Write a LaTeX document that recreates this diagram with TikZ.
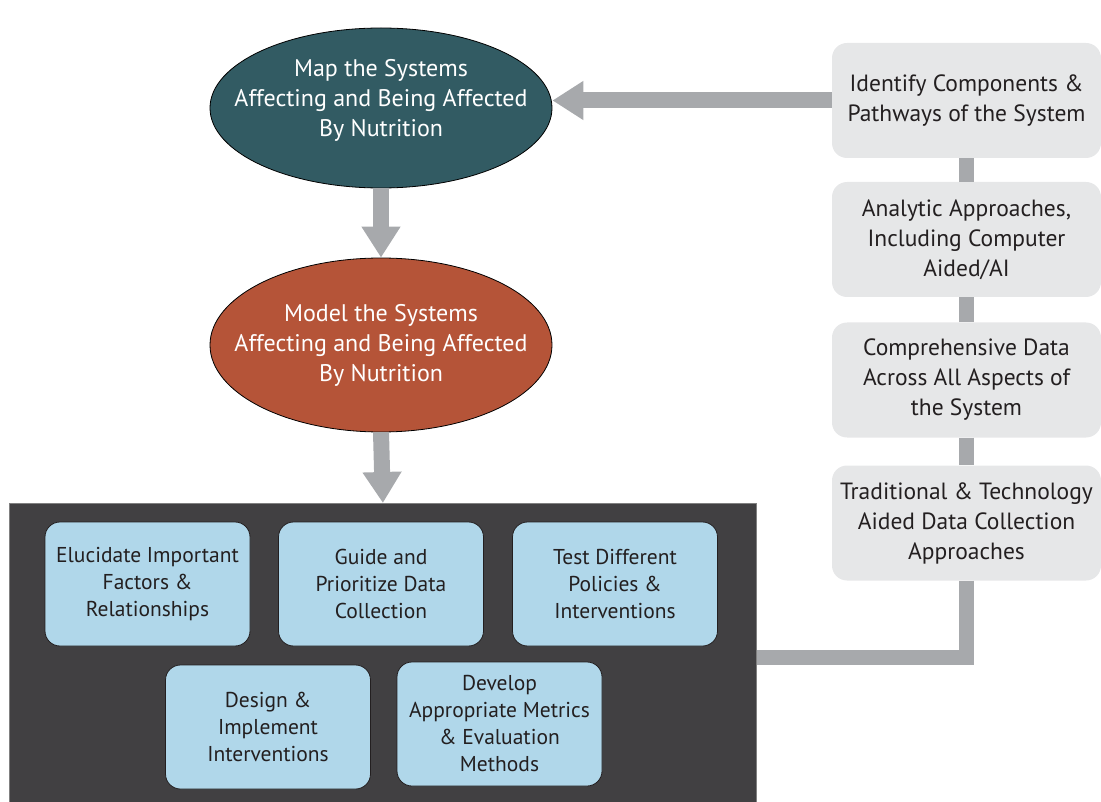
\documentclass[tikz,border=0pt]{standalone}
\usepackage{fontspec}
\setmainfont{PT Sans}
\usetikzlibrary{shapes.geometric,arrows.meta}
\definecolor{mapteal}{RGB}{50,91,99}
\definecolor{modelred}{RGB}{181,84,56}
\definecolor{arrowgray}{RGB}{167,169,172}
\definecolor{boxgray}{RGB}{230,231,232}
\definecolor{panelgray}{RGB}{65,64,66}
\definecolor{lightblue}{RGB}{176,215,234}
\definecolor{textdark}{RGB}{35,31,32}
\begin{document}
\begin{tikzpicture}[x=1pt,y=-1pt,
		sysellipse/.style={ellipse,draw=black,line width=0.8pt,minimum width=342pt},
		ellipsetext/.style={text=white,align=center,font=\fontsize{24}{30}\selectfont},
		graybox/.style={rounded corners=15pt,fill=boxgray,minimum width=269pt,minimum height=115pt,text=textdark,align=center,font=\fontsize{23.5}{30}\selectfont},
		bluebox/.style={rounded corners=15pt,draw=textdark,line width=0.8pt,fill=lightblue,minimum width=205pt,minimum height=124pt,text=textdark,align=center,font=\fontsize{21.5}{27}\selectfont},
		fatarrow/.style={arrowgray,line width=16pt,-{Triangle[length=31pt,width=37pt]}},
		fatline/.style={arrowgray,line width=15pt}]
		\useasboundingbox (0,0) rectangle (1101,802);
		% ellipses
		\node[sysellipse,fill=mapteal,minimum height=160pt] (map) at (381,108) {};
		\node[ellipsetext] (maptext) at ([yshift=8pt]map.center) {Map the Systems\\Affecting and Being Affected\\By Nutrition};
		\node[sysellipse,fill=modelred,minimum height=174pt] (model) at (381,345) {};
		\node[ellipsetext] (modeltext) at (model.center) {Model the Systems\\Affecting and Being Affected\\By Nutrition};
		% panel with uses
		\node[draw=gray,line width=0.8pt,fill=panelgray,minimum width=747pt,minimum height=308pt,anchor=north west] (panel) at (9,503) {};
		\node[bluebox] (elucidate) at (147.5,584) {Elucidate Important\\Factors \&\\Relationships};
		\node[bluebox] (guide) at (381,584) {Guide and\\Prioritize Data\\Collection};
		\node[bluebox] (test) at (615,584) {Test Different\\Policies \&\\Interventions};
		\node[bluebox] (design) at (268,727) {Design \&\\Implement\\Interventions};
		\node[bluebox] (develop) at (499.5,724) {Develop\\Appropriate Metrics\\\& Evaluation\\Methods};
		% right column
		\node[graybox] (identify) at (966.5,100.5) {Identify Components \&\\Pathways of the System};
		\node[graybox] (analytic) at (966.5,239.5) {Analytic Approaches,\\Including Computer\\Aided/AI};
		\node[graybox] (comprehensive) at (966.5,380) {Comprehensive Data\\Across All Aspects of\\the System};
		\node[graybox] (traditional) at (966.5,523) {Traditional \& Technology\\Aided Data Collection\\Approaches};
		% connectors
		\draw[fatline] (identify.south) -- (analytic.north);
		\draw[fatline] (analytic.south) -- (comprehensive.north);
		\draw[fatline] (comprehensive.south) -- (traditional.north);
		\draw[fatline] (traditional.south) |- (panel.east);
		% arrows
		\draw[fatarrow] (map.south) -- (model.north);
		\draw[fatarrow] (model.south) -- (panel.north);
		\draw[fatarrow] (identify.west) -- (identify.west -| map.east);
\end{tikzpicture}
\end{document}
